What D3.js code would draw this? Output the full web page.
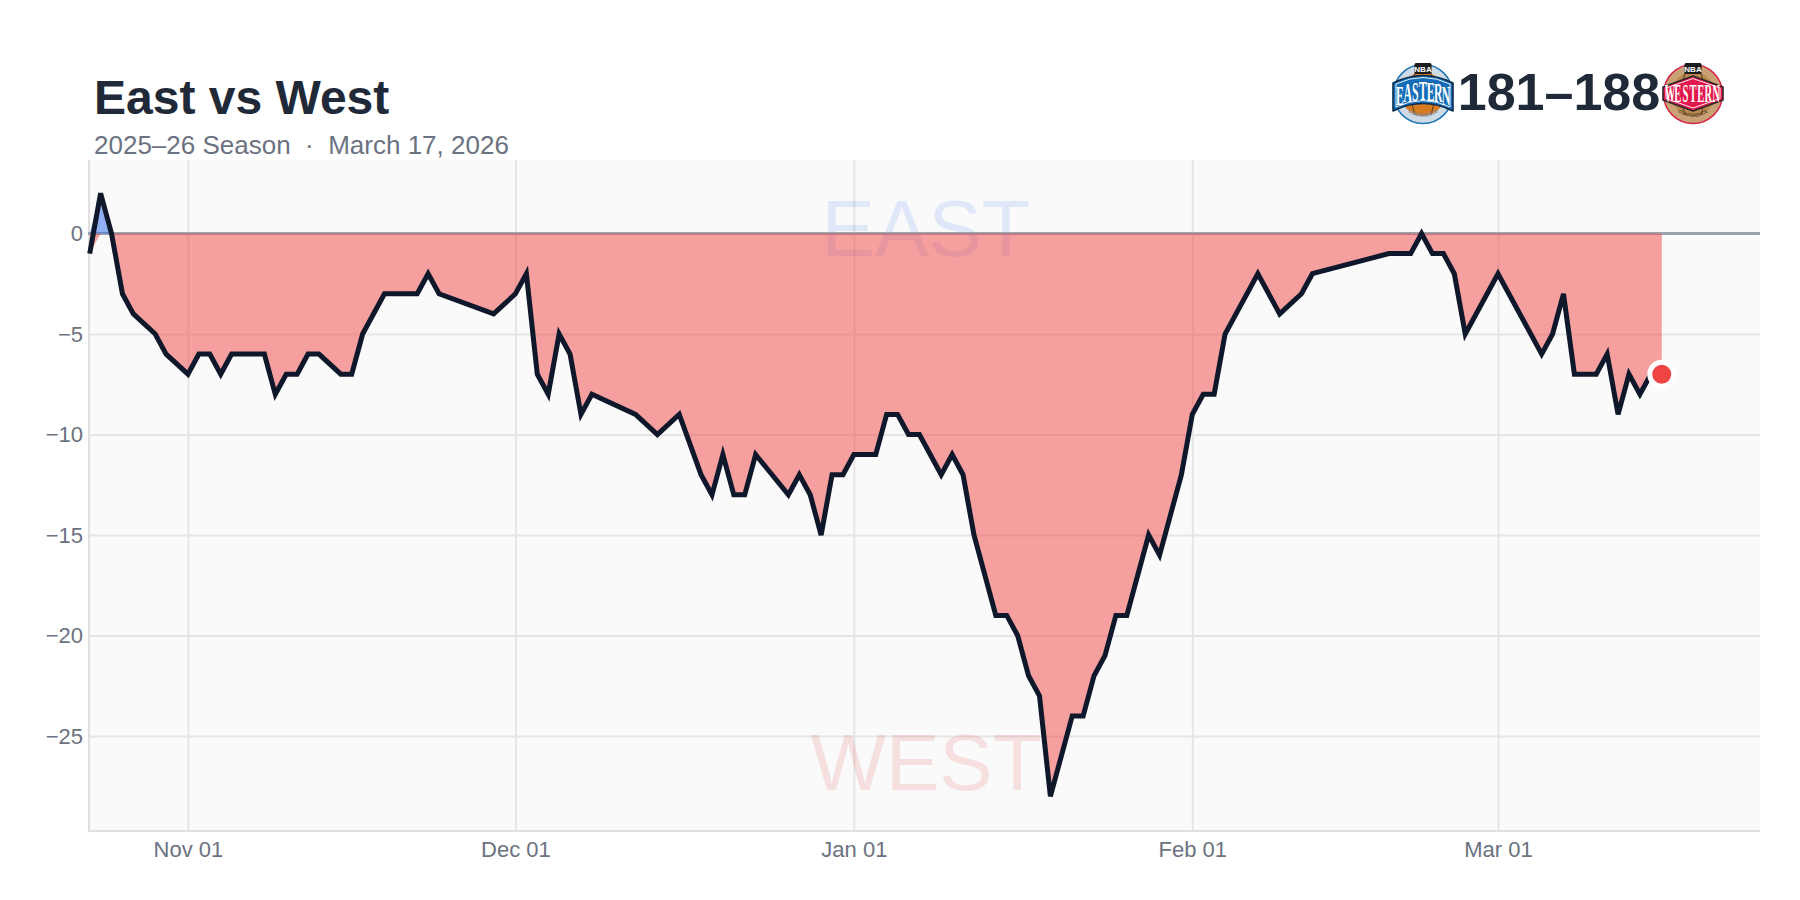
<!DOCTYPE html>
<html>
<head>
<meta charset="utf-8">
<script src="https://cdnjs.cloudflare.com/ajax/libs/d3/7.8.5/d3.min.js"></script>
<style>
  body { margin: 0; background: #fff; font-family: "Liberation Sans", Arial, sans-serif; }
  svg { display: block; }
  .tick text { font-size: 22px; fill: #6b7280; font-family: "Liberation Sans", Arial, sans-serif; }
</style>
</head>
<body>
<div id="chart"></div>
<script>
const dates = [
  "2025-10-23","2025-10-24","2025-10-25","2025-10-26","2025-10-27","2025-10-29","2025-10-30",
  "2025-11-01","2025-11-02","2025-11-03","2025-11-04","2025-11-05","2025-11-08","2025-11-09",
  "2025-11-10","2025-11-11","2025-11-12","2025-11-13","2025-11-15","2025-11-16","2025-11-17",
  "2025-11-19","2025-11-22","2025-11-23","2025-11-24","2025-11-29",
  "2025-12-01","2025-12-02","2025-12-03","2025-12-04","2025-12-05","2025-12-06","2025-12-07",
  "2025-12-08","2025-12-12","2025-12-14","2025-12-16","2025-12-18","2025-12-19","2025-12-20",
  "2025-12-21","2025-12-22","2025-12-23","2025-12-26","2025-12-27","2025-12-28","2025-12-29",
  "2025-12-30","2025-12-31",
  "2026-01-01","2026-01-03","2026-01-04","2026-01-05","2026-01-06","2026-01-07","2026-01-09",
  "2026-01-10","2026-01-11","2026-01-12","2026-01-14","2026-01-15","2026-01-16","2026-01-17",
  "2026-01-18","2026-01-19","2026-01-21","2026-01-22","2026-01-23","2026-01-24","2026-01-25",
  "2026-01-26","2026-01-28","2026-01-29","2026-01-31",
  "2026-02-01","2026-02-02","2026-02-03","2026-02-04","2026-02-07","2026-02-09","2026-02-11",
  "2026-02-12","2026-02-19","2026-02-21","2026-02-22","2026-02-23","2026-02-24","2026-02-25",
  "2026-02-26",
  "2026-03-01","2026-03-05","2026-03-06","2026-03-07","2026-03-08","2026-03-10","2026-03-11",
  "2026-03-12","2026-03-13","2026-03-14","2026-03-15","2026-03-16"
];
const diffs = [
  -1,2,0,-3,-4,-5,-6,
  -7,-6,-6,-7,-6,-6,-8,
  -7,-7,-6,-6,-7,-7,-5,
  -3,-3,-2,-3,-4,
  -3,-2,-7,-8,-5,-6,-9,
  -8,-9,-10,-9,-12,-13,-11,
  -13,-13,-11,-13,-12,-13,-15,
  -12,-12,
  -11,-11,-9,-9,-10,-10,-12,
  -11,-12,-15,-19,-19,-20,-22,
  -23,-28,-24,-24,-22,-21,-19,
  -19,-15,-16,-12,
  -9,-8,-8,-5,-2,-4,-3,
  -2,-1,-1,0,-1,-1,-2,
  -5,
  -2,-6,-5,-3,-7,-7,-6,
  -9,-7,-8,-7,-7
];
const yTicks = [0,-5,-10,-15,-20,-25];
const xTicks = ["2025-11-01","2025-12-01","2026-01-01","2026-02-01","2026-03-01"];
const xDomain = ["2025-10-23","2026-03-25"];

const W = 1800, H = 900;
const plot = { left: 88, right: 1760, top: 160, bottom: 831 };
const parse = d3.utcParse("%Y-%m-%d");
const rows = dates.map((d, i) => ({ date: parse(d), v: diffs[i] }));

const x = d3.scaleUtc().domain(xDomain.map(parse)).range([89.7, plot.right]);
const y = d3.scaleLinear().domain([0, -25]).range([233.5, 736]);

const svg = d3.select("#chart").append("svg").attr("width", W).attr("height", H);

svg.append("rect").attr("x", plot.left).attr("y", plot.top)
  .attr("width", plot.right - plot.left).attr("height", plot.bottom - plot.top)
  .attr("fill", "#fafafa");

// grid + axes
const fmtY = d => d === 0 ? "0" : "\u2212" + Math.abs(d);
const yAxis = svg.append("g").attr("transform", `translate(${plot.left},0)`)
  .call(d3.axisLeft(y).tickValues(yTicks).tickFormat(fmtY).tickSize(-(plot.right - plot.left)).tickPadding(5));
yAxis.select(".domain").remove();
yAxis.selectAll(".tick line").attr("stroke", "#e5e5e5").attr("stroke-width", 2);

const xAxis = svg.append("g").attr("transform", `translate(0,${plot.bottom})`)
  .call(d3.axisBottom(x).tickValues(xTicks.map(parse)).tickFormat(d3.utcFormat("%b %d"))
    .tickSize(-(plot.bottom - plot.top)).tickPadding(10));
xAxis.select(".domain").remove();
xAxis.selectAll(".tick line").attr("stroke", "#e5e5e5").attr("stroke-width", 2);

svg.append("line").attr("x1", plot.left + 1).attr("x2", plot.left + 1).attr("y1", plot.top).attr("y2", plot.bottom)
  .attr("stroke", "#e0e0e0").attr("stroke-width", 2);
svg.append("line").attr("x1", plot.left).attr("x2", plot.right).attr("y1", plot.bottom).attr("y2", plot.bottom)
  .attr("stroke", "#e0e0e0").attr("stroke-width", 2);

// watermarks
svg.append("text").attr("x", 926).attr("y", 256).attr("text-anchor", "middle")
  .attr("font-size", 80).attr("fill", "#2563eb").attr("opacity", 0.12).text("EAST");
svg.append("text").attr("x", 926).attr("y", 790).attr("text-anchor", "middle")
  .attr("font-size", 80).attr("fill", "#dc2626").attr("opacity", 0.12).text("WEST");

// zero line
svg.append("line").attr("x1", plot.left).attr("x2", plot.right).attr("y1", y(0)).attr("y2", y(0))
  .attr("stroke", "#9ca3af").attr("stroke-width", 3);

// areas, clamped at zero
const west = d3.area().x(d => x(d.date)).y0(y(0)).y1(d => y(Math.min(d.v, 0)));
const east = d3.area().x(d => x(d.date)).y0(y(0)).y1(d => y(Math.max(d.v, 0)));
svg.append("path").datum(rows).attr("d", west).attr("fill", "#ef4444").attr("fill-opacity", 0.5);
svg.append("path").datum(rows).attr("d", east).attr("fill", "#2563eb").attr("fill-opacity", 0.5);

// diff line
const line = d3.line().x(d => x(d.date)).y(d => y(d.v));
svg.append("path").datum(rows).attr("d", line).attr("fill", "none")
  .attr("stroke", "#0f172a").attr("stroke-width", 5).attr("stroke-linejoin", "miter");

// last point
const last = rows[rows.length - 1];
svg.append("circle").attr("cx", x(last.date)).attr("cy", y(last.v)).attr("r", 12)
  .attr("fill", "#ef4444").attr("stroke", "#fff").attr("stroke-width", 5);

// titles
svg.append("text").attr("x", 94).attr("y", 114).attr("font-size", 48).attr("font-weight", 700)
  .attr("fill", "#1f2937").text("East vs West");
svg.append("text").attr("x", 94).attr("y", 154).attr("font-size", 26).attr("fill", "#6b7280")
  .attr("xml:space", "preserve").text("2025\u201326 Season  \u00b7  March 17, 2026");
svg.append("text").attr("x", 1559).attr("y", 110).attr("text-anchor", "middle")
  .attr("font-size", 52).attr("font-weight", 700).attr("fill", "#1f2937").text("181\u2013188");

// conference logos, drawn by hand around their centre
function drawLogo(cx, cy, o, id) {
  const g = svg.append("g").attr("transform", `translate(${cx},${cy})`);
  g.append("circle").attr("cy", 1).attr("r", 29.5).attr("fill", o.ring).attr("stroke", o.edge).attr("stroke-width", 1.5);
  g.append("circle").attr("cy", 1).attr("r", 22).attr("fill", o.ball);
  [-8, 8].forEach(dx => g.append("path")
    .attr("d", `M${dx},-20 Q${dx * 1.9},1 ${dx},22`).attr("fill", "none").attr("stroke", "#3a2a1c").attr("stroke-width", 0.8));
  g.append("path").attr("d", "M-21,10 Q0,3 21,10").attr("fill", "none").attr("stroke", "#3a2a1c").attr("stroke-width", 0.8);

  // banner
  g.append("path").attr("d", o.banner).attr("fill", o.bannerFill)
    .attr("stroke", o.bannerEdge).attr("stroke-width", 1.6).attr("stroke-linejoin", "round");
  g.append("path").attr("d", o.inner).attr("fill", "none").attr("stroke", "#fff").attr("stroke-width", 0.9);

  // banner lettering, one glyph at a time so it follows the arch
  const word = o.word.split("");
  word.forEach((ch, i) => {
    const t = (i - (word.length - 1) / 2) / ((word.length - 1) / 2);
    const bx = t * 23;
    const by = o.lift + o.arch * t * t;
    g.append("text").attr("transform", `translate(${bx},${by}) scale(0.42,1)`).attr("text-anchor", "middle")
      .attr("font-family", "Liberation Serif").attr("font-weight", 700).attr("font-size", o.size)
      .attr("fill", "#fff").text(ch);
  });

  // NBA tag
  g.append("rect").attr("x", -8.5).attr("y", -30).attr("width", 17).attr("height", 11).attr("rx", 1.5).attr("fill", "#1c1c1f");
  g.append("text").attr("y", -21.5).attr("text-anchor", "middle").attr("font-size", 8).attr("font-weight", 700)
    .attr("fill", "#fff").text("NBA");

  // small curved line under the ball
  g.append("defs").append("path").attr("id", id).attr("d", "M-20,15 Q0,33 20,15");
  g.append("text").attr("font-size", 4.6).attr("font-weight", 700).attr("fill", o.small)
    .append("textPath").attr("href", "#" + id).attr("startOffset", "50%").attr("text-anchor", "middle").text("CONFERENCE");
}

drawLogo(1423, 93, {
  ring: "#cfdbe6", edge: "#1d76b8", ball: "#d77a22",
  banner: "M-30,-10 Q0,-25 30,-10 L30,18 Q0,3 -30,18 Z",
  inner: "M-27,-9 Q0,-22 27,-9 L27,14 Q0,1 -27,14 Z",
  bannerFill: "#156db8", bannerEdge: "#0d2c4c", word: "EASTERN", size: 28, lift: 7, arch: 5, small: "#7f8b96"
}, "eastArc");

drawLogo(1693, 93, {
  ring: "#c8a274", edge: "#d8284a", ball: "#b98a4e",
  banner: "M-30,-6 L0,-17 L30,-6 L30,7 L0,18 L-30,7 Z",
  inner: "M-27,-5 L0,-14.5 L27,-5 L27,5.5 L0,15 L-27,5.5 Z",
  bannerFill: "#e2184c", bannerEdge: "#33262a", word: "WESTERN", size: 25, lift: 8.5, arch: 0, small: "#5b3f2a"
}, "westArc");
</script>
</body>
</html>
